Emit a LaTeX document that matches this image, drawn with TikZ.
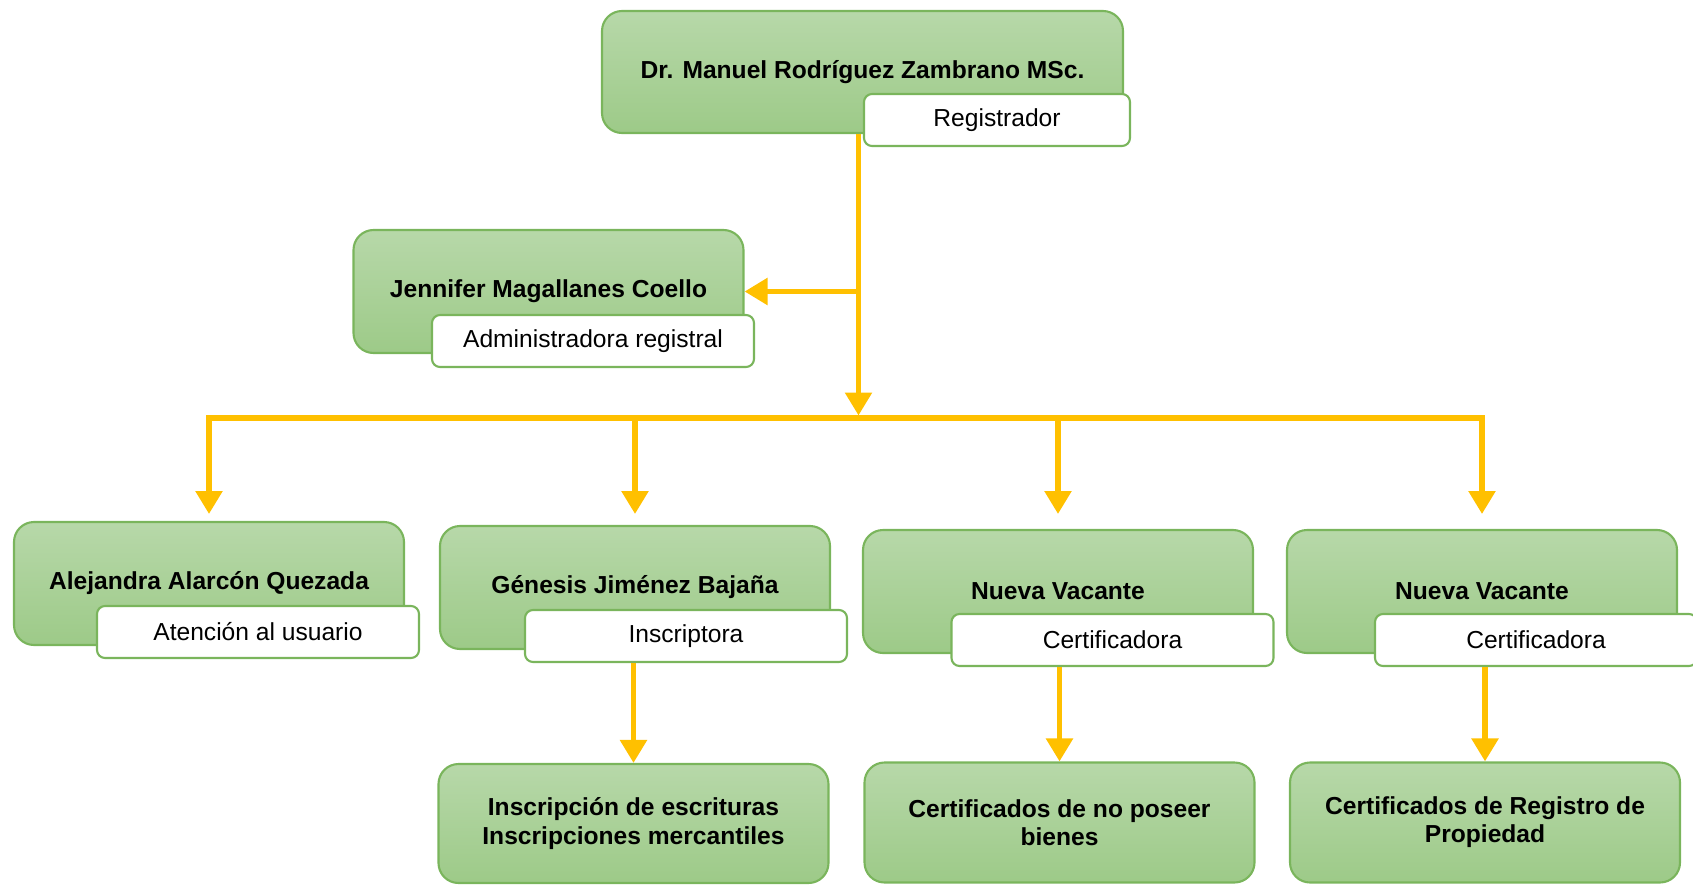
\documentclass[tikz,border=0pt]{standalone}
\usepackage{fontspec}
\setmainfont{Liberation Sans}
\usepackage{xcolor}
\usepackage{tikz}
\usetikzlibrary{arrows.meta,calc}
\definecolor{verdeSup}{HTML}{B7D8A9}
\definecolor{verdeInf}{HTML}{9DCA88}
\definecolor{verdeBorde}{HTML}{7AB55C}
\definecolor{naranja}{HTML}{FFC000}
\tikzset{
  cargo/.style={rounded corners=0.4cm,top color=verdeSup,bottom color=verdeInf,draw=verdeBorde,line width=1.2pt,
    minimum width=7.8cm,minimum height=2.46cm,align=center,font=\fontsize{14}{16}\selectfont\bfseries},
  rol/.style={rounded corners=0.16cm,fill=white,draw=verdeBorde,line width=1.2pt,
    minimum width=6.44cm,minimum height=1.04cm,font=\fontsize{14}{16}\selectfont},
  linea/.style={naranja,line width=0.11cm},
  flecha/.style={linea,-{Triangle[length=0.46cm,width=0.52cm]}}
}

\begin{document}
\begin{tikzpicture}
\useasboundingbox (0,0) rectangle (33.86,-17.72);
% registrador
\node[cargo,minimum width=10.42cm,minimum height=2.44cm] (dr) at (17.25,-1.44) {Dr. Manuel Rodríguez Zambrano MSc.};
\node[rol,minimum width=5.32cm] (registrador) at (19.94,-2.40) {Registrador};
% administradora
\node[cargo] (jennifer) at (10.97,-5.83) {Jennifer Magallanes Coello};
\node[rol] (admin) at (11.86,-6.82) {Administradora registral};
% fila de cargos
\node[cargo] (alejandra) at (4.18,-11.67) {Alejandra Alarcón Quezada};
\node[rol] (atencion) at (5.16,-12.64) {Atención al usuario};
\node[cargo] (genesis) at (12.70,-11.75) {Génesis Jiménez Bajaña};
\node[rol] (inscriptora) at (13.72,-12.72) {Inscriptora};
\node[cargo] (vacanteA) at (21.16,-11.83) {Nueva Vacante};
\node[rol] (certA) at (22.25,-12.80) {Certificadora};
\node[cargo] (vacanteB) at (29.64,-11.83) {Nueva Vacante};
\node[rol] (certB) at (30.72,-12.80) {Certificadora};
% funciones
\node[cargo,minimum height=2.38cm] (escrituras) at (12.67,-16.47) {Inscripción de escrituras\\Inscripciones mercantiles};
\node[cargo,minimum height=2.4cm] (noposeer) at (21.19,-16.45) {Certificados de no poseer\\bienes};
\node[cargo,minimum height=2.4cm] (propiedad) at (29.70,-16.45) {Certificados de Registro de\\Propiedad};
% conectores
\coordinate (cruce) at (17.17,-8.36);
\coordinate (fin) at (0,-10.28);
\draw[flecha] (cruce |- dr.south) -- ($(cruce)+(0,0.05)$);
\draw[flecha] (cruce |- jennifer.east) -- (jennifer.east);
\draw[linea,line cap=rect] (cruce -| alejandra.north) -- (cruce -| vacanteB.north);
\foreach \n in {alejandra,genesis,vacanteA,vacanteB}
  \draw[flecha] (cruce -| \n.north) -- (fin -| \n.north);
\draw[flecha] (escrituras.north |- inscriptora.south) -- (escrituras.north);
\draw[flecha] (noposeer.north |- certA.south) -- (noposeer.north);
\draw[flecha] (propiedad.north |- certB.south) -- (propiedad.north);
\end{tikzpicture}
\end{document}
